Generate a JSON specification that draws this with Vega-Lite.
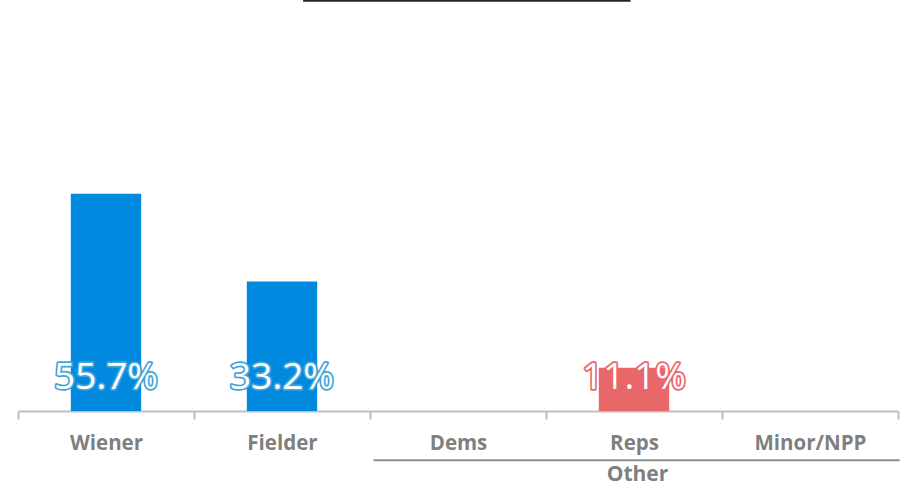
{
  "$schema": "https://vega.github.io/schema/vega-lite/v6.json",
  "width": 880,
  "height": 390,
  "autosize": {"type": "none"},
  "padding": {"left": 18, "top": 21, "right": 5, "bottom": 75},
  "background": "white",
  "config": {"view": {"stroke": null}, "font": "Open Sans"},
  "datasets": {
    "bars": [
      {"cat": "Wiener", "value": 55.7, "label": "55.7%", "party": "blue"},
      {"cat": "Fielder", "value": 33.2, "label": "33.2%", "party": "blue"},
      {"cat": "Reps", "value": 11.1, "label": "11.1%", "party": "red"}
    ],
    "group": [{"from": "Dems", "to": "Minor/NPP", "mid": "Reps", "name": "Other"}],
    "topline": [{"from": "Fielder", "to": "Reps"}]
  },
  "layer": [
    {
      "data": {"name": "bars"},
      "mark": {"type": "bar", "width": {"band": 0.4}},
      "encoding": {
        "x": {
          "field": "cat", "type": "nominal",
          "scale": {"domain": ["Wiener", "Fielder", "Dems", "Reps", "Minor/NPP"], "paddingInner": 0, "paddingOuter": 0},
          "axis": {
            "title": null, "labelAngle": 0, "labelFontSize": 20.5, "labelFontWeight": "bold",
            "labelColor": "#7f7f7f", "labelPadding": 14, "tickBand": "extent",
            "tickSize": 8, "tickColor": "#bfbfbf", "tickWidth": 2,
            "domainColor": "#bfbfbf", "domainWidth": 2, "labelFont": "Open Sans"
          }
        },
        "y": {"field": "value", "type": "quantitative", "scale": {"domain": [0, 100]}, "axis": null},
        "color": {"field": "party", "type": "nominal", "scale": {"domain": ["blue", "red"], "range": ["#0089de", "#e8686a"]}, "legend": null}
      }
    },
    {
      "data": {"name": "bars"},
      "mark": {"type": "text", "fontSize": 37, "strokeWidth": 3.5, "strokeJoin": "round", "baseline": "middle", "align": "center"},
      "encoding": {
        "x": {"field": "cat", "type": "nominal"},
        "y": {"datum": 8.4},
        "text": {"field": "label"},
        "fill": {"field": "party", "type": "nominal", "scale": {"domain": ["blue", "red"], "range": ["#3fa4dc", "#e8666a"]}, "legend": null},
        "stroke": {"field": "party", "type": "nominal", "scale": {"domain": ["blue", "red"], "range": ["#3fa4dc", "#e8666a"]}, "legend": null}
      }
    },
    {
      "data": {"name": "bars"},
      "mark": {"type": "text", "fontSize": 37, "fill": "white", "baseline": "middle", "align": "center"},
      "encoding": {
        "x": {"field": "cat", "type": "nominal"},
        "y": {"datum": 8.4},
        "text": {"field": "label"}
      }
    },
    {
      "data": {"name": "group"},
      "mark": {"type": "rule", "color": "#8c8c8c", "strokeWidth": 2},
      "encoding": {
        "x": {"field": "from", "type": "nominal", "bandPosition": 0.02},
        "x2": {"field": "to", "bandPosition": 1.01},
        "y": {"datum": -12.6}
      }
    },
    {
      "data": {"name": "group"},
      "mark": {"type": "text", "fontSize": 21, "fontWeight": "bold", "color": "#7f7f7f", "baseline": "middle"},
      "encoding": {
        "x": {"field": "mid", "type": "nominal", "bandPosition": 0.52},
        "y": {"datum": -16.3},
        "text": {"field": "name"}
      }
    },
    {
      "data": {"name": "topline"},
      "mark": {"type": "rule", "color": "#262626", "strokeWidth": 2},
      "encoding": {
        "x": {"field": "from", "type": "nominal", "bandPosition": 0.62},
        "x2": {"field": "to", "bandPosition": 0.48},
        "y": {"datum": 105.2}
      }
    }
  ]
}
